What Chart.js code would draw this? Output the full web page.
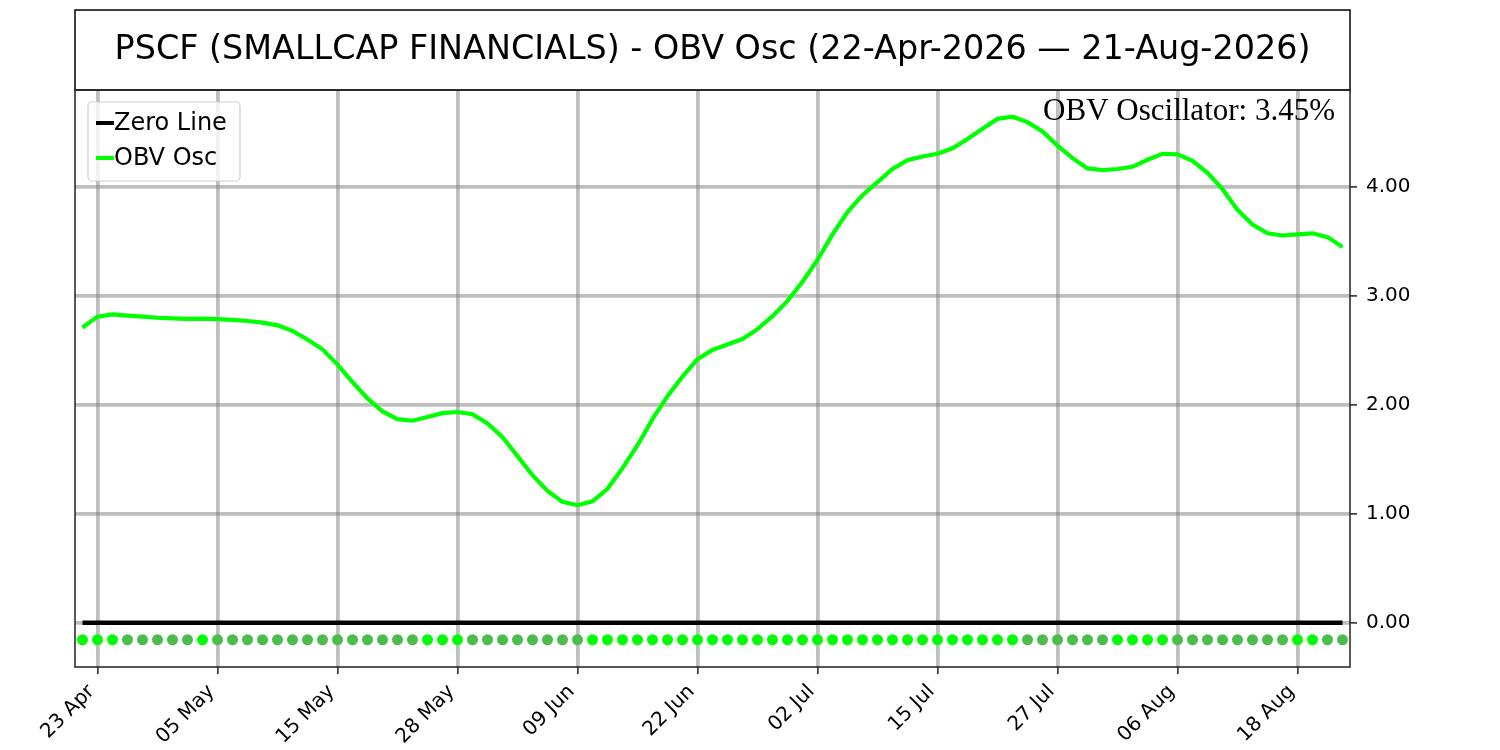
<!DOCTYPE html>
<html>
<head>
<meta charset="utf-8">
<script src="https://cdn.jsdelivr.net/npm/chart.js@4.4.1/dist/chart.umd.min.js"></script>
<style>
  html, body { margin: 0; padding: 0; background: #fff; }
  #wrap { width: 1500px; height: 750px; }
</style>
</head>
<body>
<div id="wrap"><canvas id="chart" width="1500" height="750"></canvas></div>
<script>
const titleText = 'PSCF (SMALLCAP FINANCIALS) - OBV Osc (22-Apr-2026 \u2014 21-Aug-2026)';
const lastValueText = 'OBV Oscillator: 3.45%';

// one value per trading day, 22 Apr .. 21 Aug
const obvOsc = [
  2.71, 2.81, 2.83, 2.82, 2.81, 2.80, 2.795, 2.79, 2.792, 2.787,
  2.78, 2.77, 2.755, 2.73, 2.68, 2.60, 2.51, 2.37, 2.21, 2.06,
  1.94, 1.87, 1.855, 1.89, 1.925, 1.935, 1.915, 1.83, 1.705, 1.53,
  1.355, 1.21, 1.11, 1.08, 1.115, 1.23, 1.42, 1.63, 1.87, 2.08,
  2.26, 2.42, 2.505, 2.555, 2.605, 2.695, 2.815, 2.955, 3.13, 3.33,
  3.565, 3.77, 3.925, 4.045, 4.165, 4.245, 4.28, 4.305, 4.355, 4.44,
  4.535, 4.625, 4.645, 4.595, 4.51, 4.38, 4.265, 4.17, 4.155, 4.165,
  4.185, 4.25, 4.305, 4.30, 4.24, 4.13, 3.98, 3.79, 3.655, 3.575,
  3.555, 3.565, 3.575, 3.54, 3.45
];
const tickIndex = [1, 9, 17, 25, 33, 41, 49, 57, 65, 73, 81];
const tickLabels = ['23 Apr', '05 May', '15 May', '28 May', '09 Jun', '22 Jun', '02 Jul', '15 Jul', '27 Jul', '06 Aug', '18 Aug'];
const yTicks = [0, 1, 2, 3, 4];
const zeroLevel = 0;
const dotLevel = -0.155;

const GREEN = '#00ff00';
const DARK_GREEN = '#4cbd4c';
const GRID = 'rgba(128,128,128,0.5)';

// bright dot when the oscillator rose that day
const dotColors = obvOsc.map((v, i) => (i === 0 || v >= obvOsc[i - 1]) ? GREEN : DARK_GREEN);

const framePlugin = {
  id: 'frame',
  beforeDraw(chart) {
    const ctx = chart.ctx;
    ctx.save();
    ctx.fillStyle = '#fff';
    ctx.fillRect(0, 0, chart.width, chart.height);
    ctx.restore();
  },
  afterDraw(chart) {
    const ctx = chart.ctx;
    const a = chart.chartArea;
    ctx.save();
    // title box
    ctx.strokeStyle = '#000';
    ctx.lineWidth = 1.5;
    ctx.strokeRect(a.left, 10, a.right - a.left, a.top - 10);
    ctx.fillStyle = '#000';
    ctx.font = '33.4px "DejaVu Sans"';
    ctx.textAlign = 'center';
    ctx.textBaseline = 'middle';
    ctx.fillText(titleText, (a.left + a.right) / 2, 50);
    // plot frame
    ctx.strokeStyle = '#222';
    ctx.strokeRect(a.left, a.top, a.right - a.left, a.bottom - a.top);
    // last value note
    ctx.font = '31px "Liberation Serif"';
    ctx.textAlign = 'right';
    ctx.textBaseline = 'alphabetic';
    ctx.fillStyle = '#000';
    ctx.fillText(lastValueText, a.right - 15, 120);
    // legend
    const lx = a.left + 13, ly = a.top + 12, lw = 152, lh = 79;
    ctx.fillStyle = 'rgba(255,255,255,0.8)';
    ctx.strokeStyle = '#d0d0d0';
    ctx.lineWidth = 1.2;
    ctx.beginPath();
    ctx.roundRect(lx, ly, lw, lh, 4);
    ctx.fill();
    ctx.stroke();
    ctx.font = '24px "DejaVu Sans"';
    ctx.textAlign = 'left';
    ctx.textBaseline = 'middle';
    chart.data.datasets.slice(0, 2).forEach((ds, i) => {
      const y = ly + 21 + i * 35;
      ctx.strokeStyle = ds.borderColor;
      ctx.lineWidth = 4;
      ctx.beginPath();
      ctx.moveTo(lx + 8, y);
      ctx.lineTo(lx + 26, y);
      ctx.stroke();
      ctx.fillStyle = '#000';
      ctx.fillText(ds.label, lx + 26, y + 1);
    });
    ctx.restore();
  }
};

new Chart(document.getElementById('chart'), {
  type: 'line',
  data: {
    datasets: [
      {
        label: 'Zero Line',
        data: obvOsc.map((_, i) => ({ x: i, y: zeroLevel })),
        borderColor: '#000',
        borderWidth: 4.5,
        pointRadius: 0
      },
      {
        label: 'OBV Osc',
        data: obvOsc.map((v, i) => ({ x: i, y: v })),
        borderColor: GREEN,
        borderWidth: 4.2,
        pointRadius: 0,
        tension: 0
      },
      {
        label: 'Trend',
        data: obvOsc.map((_, i) => ({ x: i, y: dotLevel })),
        showLine: false,
        pointRadius: 5.5,
        pointBorderWidth: 0,
        pointBackgroundColor: dotColors,
        pointBorderColor: dotColors
      }
    ]
  },
  options: {
    responsive: false,
    animation: false,
    devicePixelRatio: 1,
    layout: { padding: { left: 75, top: 90, right: 0, bottom: 0 } },
    plugins: {
      legend: { display: false },
      tooltip: { enabled: false }
    },
    scales: {
      x: {
        type: 'linear',
        min: -0.5,
        max: 84.5,
        afterBuildTicks: s => { s.ticks = tickIndex.map(v => ({ value: v })); },
        afterFit: s => { s.height = 83; },
        border: { display: false },
        grid: { color: GRID, lineWidth: 3.8, tickColor: '#222', tickLength: 7, tickWidth: 1.5 },
        ticks: {
          autoSkip: false,
          minRotation: 45,
          maxRotation: 45,
          padding: 6,
          labelOffset: -6,
          color: '#000',
          font: { family: 'DejaVu Sans', size: 20 },
          callback: v => tickLabels[tickIndex.indexOf(v)]
        }
      },
      y: {
        position: 'right',
        min: -0.405,
        max: 4.89,
        afterBuildTicks: s => { s.ticks = yTicks.map(v => ({ value: v })); },
        afterFit: s => { s.width = 150; },
        border: { display: false },
        grid: { color: GRID, lineWidth: 3.8, tickColor: '#222', tickLength: 7, tickWidth: 1.5 },
        ticks: {
          padding: 9,
          color: '#000',
          font: { family: 'DejaVu Sans', size: 20 },
          callback: v => v.toFixed(2)
        }
      }
    }
  },
  plugins: [framePlugin]
});
</script>
</body>
</html>
